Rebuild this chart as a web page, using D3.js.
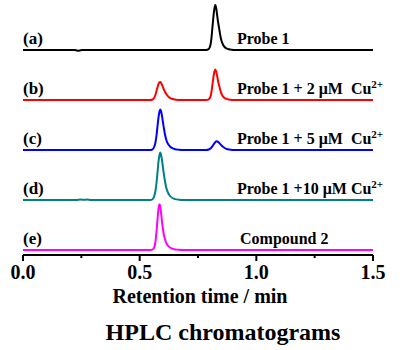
<!DOCTYPE html>
<html>
<head>
<meta http-equiv="Content-Type" content="text/html; charset=UTF-8">
<style>
body { margin: 0; background: #fff; }
text { font-family: "Liberation Serif", "Times New Roman", serif; font-weight: bold; }
</style>
</head>
<body>
<svg width="415" height="350"></svg>
<script src="https://cdn.jsdelivr.net/npm/d3@7"></script>
<script>

// retention time (min), detector signal
var probe1 = [[0,0],[0.222,0],[0.230,-0.4],[0.238,-0.8],[0.246,-0.3],[0.256,0],[0.785,0],[0.794,0.6],[0.800,2.5],[0.805,7],[0.809,15],[0.812,23],[0.816,33],[0.820,41],[0.824,45],[0.828,42],[0.832,35],[0.836,28],[0.841,21],[0.846,14],[0.851,9],[0.857,5.5],[0.864,3],[0.872,1.6],[0.882,0.7],[0.895,0.2],[0.910,0],[1.5,0]];
var cu2 = [[0,0],[0.545,0],[0.555,0.5],[0.561,1.8],[0.566,4],[0.570,7],[0.575,11.5],[0.580,15.5],[0.584,17.5],[0.588,18],[0.592,17],[0.597,14.5],[0.602,11.5],[0.608,8.5],[0.614,6],[0.621,3.8],[0.629,2.2],[0.638,1.2],[0.650,0.5],[0.665,0.1],[0.680,0],[0.785,0],[0.794,0.4],[0.800,1.7],[0.805,4.8],[0.809,10],[0.812,15.5],[0.816,22.5],[0.820,28],[0.824,30.5],[0.828,28.5],[0.832,24],[0.836,19],[0.841,14],[0.846,9.5],[0.851,6],[0.857,3.7],[0.864,2],[0.872,1.1],[0.882,0.5],[0.895,0.1],[0.910,0],[1.5,0]];
var cu5 = [[0,0],[0.545,0],[0.555,0.7],[0.562,3],[0.568,8],[0.573,16],[0.577,25],[0.581,33],[0.585,38.5],[0.588,40.5],[0.591,39.5],[0.595,35],[0.599,29],[0.604,21.5],[0.609,15],[0.615,9.5],[0.622,6],[0.630,3.5],[0.640,1.8],[0.652,0.8],[0.668,0.3],[0.690,0],[0.785,0],[0.796,0.5],[0.805,1.8],[0.812,3.8],[0.818,6],[0.824,7.8],[0.830,8.7],[0.836,8.2],[0.842,6.8],[0.849,5],[0.856,3.4],[0.864,2],[0.873,1],[0.885,0.4],[0.900,0.1],[0.915,0],[1.5,0]];
var cu10 = [[0,0],[0.230,0],[0.245,0.5],[0.260,0.2],[0.275,0.4],[0.290,0],[0.545,0],[0.555,0.8],[0.562,3.5],[0.568,9.5],[0.573,19],[0.577,29],[0.581,39],[0.585,45],[0.588,47.5],[0.591,46],[0.595,41],[0.599,34],[0.604,25.5],[0.609,18],[0.615,11.5],[0.622,7],[0.630,4],[0.640,2],[0.652,0.9],[0.668,0.3],[0.690,0],[1.5,0]];
var compound2 = [[0,0],[0.545,0],[0.556,0.6],[0.563,3],[0.568,9],[0.572,18],[0.576,29],[0.579,37.5],[0.582,43.5],[0.585,45.7],[0.588,44],[0.591,38.5],[0.595,30],[0.599,22],[0.604,15],[0.610,9.5],[0.617,5.8],[0.625,3.4],[0.635,1.8],[0.648,0.8],[0.665,0.3],[0.690,0],[1.5,0]];

var traces = [probe1, cu2, cu5, cu10, compound2];
var colors = ["#000000", "#ff0000", "#0000ff", "#008080", "#ff00ff"];
var letters = ["(a)", "(b)", "(c)", "(d)", "(e)"];
var names = ["Probe 1", "Probe 1 + 2 \u03bcM  Cu", "Probe 1 + 5 \u03bcM  Cu", "Probe 1 +10 \u03bcM Cu", "Compound 2"];
var supers = ["", "2+", "2+", "2+", ""];
var majorTicks = [0, 0.5, 1.0, 1.5];
var minorTicks = [0.25, 0.75, 1.25];

var svg = d3.select("svg"),
    left = 23, width = 350,
    axisY = 255;

var x = d3.scaleLinear().domain([0, 1.5]).range([left, left + width]),
    y = d3.scaleLinear().domain([0, 50]).range([0, -50]);

var line = d3.line()
    .curve(d3.curveMonotoneX)
    .x(function(d) { return x(d[0]); })
    .y(function(d) { return y(d[1]); });

// axis
svg.append("line")
    .attr("x1", x(0)).attr("x2", x(1.5))
    .attr("y1", axisY).attr("y2", axisY)
    .attr("stroke", "#000").attr("stroke-width", 2);

svg.selectAll(".major").data(majorTicks).enter().append("line")
    .attr("x1", x).attr("x2", x)
    .attr("y1", axisY).attr("y2", axisY + 6)
    .attr("stroke", "#000").attr("stroke-width", 2);

svg.selectAll(".minor").data(minorTicks).enter().append("line")
    .attr("x1", x).attr("x2", x)
    .attr("y1", axisY).attr("y2", axisY + 3)
    .attr("stroke", "#000").attr("stroke-width", 2);

svg.selectAll(".ticklabel").data(majorTicks).enter().append("text")
    .attr("x", x).attr("y", 279)
    .attr("text-anchor", "middle")
    .style("font-size", "20px")
    .text(function(d) { return d.toFixed(1); });

svg.append("text")
    .attr("x", 200).attr("y", 303)
    .attr("text-anchor", "middle")
    .style("font-size", "20px")
    .text("Retention time / min");

svg.append("text")
    .attr("x", 223).attr("y", 340)
    .attr("text-anchor", "middle")
    .style("font-size", "24px")
    .text("HPLC chromatograms");

// traces
var g = svg.selectAll(".trace").data(traces).enter().append("g")
    .attr("transform", function(d, i) { return "translate(0," + (50 + 50 * i) + ")"; });

g.append("path")
    .attr("d", line)
    .attr("fill", "none")
    .attr("stroke", function(d, i) { return colors[i]; })
    .attr("stroke-width", 2);

g.append("text")
    .attr("x", 23).attr("y", -6)
    .style("font-size", "17px")
    .text(function(d, i) { return letters[i]; });

var lab = g.append("text")
    .attr("x", function(d, i) { return i == 4 ? 240 : 237; })
    .attr("y", -6)
    .style("font-size", "16px")
    .style("white-space", "pre");

lab.append("tspan").text(function(d, i) { return names[i]; });
lab.append("tspan")
    .attr("dy", -6)
    .style("font-size", "11px")
    .text(function(d, i) { return supers[i]; });

</script>
</body></html>
